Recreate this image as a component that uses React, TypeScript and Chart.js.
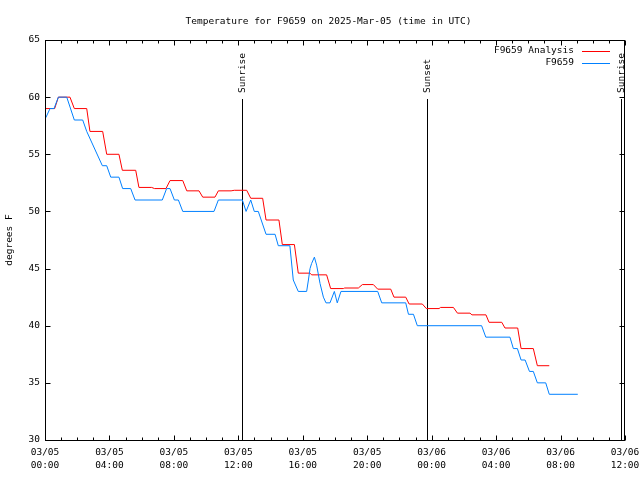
import React, { useEffect, useRef } from "react";
import { Chart, registerables } from "chart.js";

Chart.register(...registerables);

const TITLE = "Temperature for F9659 on 2025-Mar-05 (time in UTC)";
const Y_LABEL = "degrees F";
const MONTH = "03";
const START_DAY = 5;
const X_MIN = 0;
const X_MAX = 36;
const X_MAJOR = 4;
const X_MINOR = 1;
const Y_MIN = 30;
const Y_MAX = 65;
const Y_STEP = 5;

const seriesNames = ["F9659 Analysis", "F9659"];
const seriesColors = ["#ff0000", "#0080ff"];

// hours since 03/05 00:00 UTC
const analysisHours = [
  0.05, 0.6, 0.83, 1.55, 1.82, 2.59, 2.79, 3.58, 3.83, 4.59, 4.8, 5.63, 5.83, 6.62, 6.8, 7.51,
  7.76, 8.55, 8.8, 9.56, 9.79, 10.55, 10.76, 11.55, 11.75, 12.52, 12.77, 13.51, 13.72, 14.52,
  14.73, 15.48, 15.72, 16.45, 16.55, 17.48, 17.73, 18.52, 18.6, 19.45, 19.7, 20.38, 20.65,
  21.46, 21.66, 22.39, 22.6, 23.42, 23.67, 24.46, 24.55, 25.35, 25.6, 26.38, 26.5, 27.37,
  27.56, 28.35, 28.55, 29.34, 29.55, 30.31, 30.56, 31.3,
];
const analysisTemps = [
  59, 59, 60, 60, 59, 59, 57, 57, 55, 55, 53.6, 53.6, 52.1, 52.1, 52.0, 52.0,
  52.7, 52.7, 51.8, 51.8, 51.25, 51.25, 51.8, 51.8, 51.85, 51.85, 51.15, 51.15, 49.25, 49.25,
  47.1, 47.1, 44.6, 44.6, 44.45, 44.45, 43.25, 43.25, 43.3, 43.3, 43.6, 43.6, 43.2,
  43.2, 42.5, 42.5, 41.9, 41.9, 41.5, 41.5, 41.6, 41.6, 41.1, 41.1, 40.95, 40.95,
  40.3, 40.3, 39.8, 39.8, 38.0, 38.0, 36.5, 36.5,
];

const obsHours = [
  0.05, 0.31, 0.56, 0.83, 1.35, 1.82, 2.34, 2.59, 3.56, 3.83, 4.08, 4.59, 4.82, 5.32, 5.59,
  7.28, 7.55, 7.76, 8.03, 8.28, 8.55, 10.49, 10.76, 12.25, 12.48, 12.77, 12.99, 13.24, 13.72,
  14.28, 14.48, 15.2, 15.41, 15.72, 16.24, 16.35, 16.45, 16.55, 16.72, 16.86, 17.07, 17.28,
  17.44, 17.69, 17.96, 18.14, 18.37, 20.65, 20.9, 22.39, 22.56, 22.87, 23.11, 27.1, 27.36,
  28.86, 29.07, 29.32, 29.55, 29.8, 30.07, 30.31, 30.56, 31.08, 31.3, 33.07,
];
const obsTemps = [
  58.2, 59, 59, 60, 60, 58, 58, 57, 54, 54, 53, 53, 52, 52, 51,
  51, 52, 52, 51, 51, 50, 50, 51, 51, 50, 51, 50, 50, 48,
  48, 47, 47, 44, 43, 43, 44, 45, 45.45, 46, 45.3, 43.7, 42.5,
  42, 42, 43, 42, 43, 43, 42, 42, 41, 41, 40, 40, 39,
  39, 38, 38, 37, 37, 36, 36, 35, 35, 34, 34,
];

const eventNames = ["Sunrise", "Sunset", "Sunrise"];
const eventHours = [12.24, 23.73, 35.78];

const FONT_FAMILY = "'DejaVu Sans Mono', monospace";
const FONT_SIZE = 9.5;

const pad2 = (n: number) => (n < 10 ? "0" + n : "" + n);

const gnuplotDecor = {
  id: "gnuplotDecor",
  beforeDatasetsDraw(chart: any) {
    const { ctx, chartArea, scales } = chart;
    const xs = scales.x;
    const top = Math.round(chartArea.bottom - 0.853 * (chartArea.bottom - chartArea.top));
    ctx.save();
    ctx.strokeStyle = "#000";
    ctx.lineWidth = 1;
    ctx.fillStyle = "#000";
    ctx.font = `${FONT_SIZE}px ${FONT_FAMILY}`;
    eventHours.forEach((h, i) => {
      const px = Math.round(xs.getPixelForValue(h)) + 0.5;
      ctx.beginPath();
      ctx.moveTo(px, top);
      ctx.lineTo(px, Math.round(chartArea.bottom));
      ctx.stroke();
      ctx.save();
      ctx.translate(px + 0.5, top - 6);
      ctx.rotate(-Math.PI / 2);
      ctx.textAlign = "left";
      ctx.textBaseline = "middle";
      ctx.fillText(eventNames[i], 0, 0);
      ctx.restore();
    });
    ctx.restore();
  },
  afterDatasetsDraw(chart: any) {
    const { ctx, chartArea, scales } = chart;
    const xs = scales.x;
    const ys = scales.y;
    const L = Math.round(chartArea.left) + 0.5;
    const R = Math.round(chartArea.right) - 0.5;
    const T = Math.round(chartArea.top) + 0.5;
    const B = Math.round(chartArea.bottom) + 0.5;
    ctx.save();
    ctx.strokeStyle = "#000";
    ctx.lineWidth = 1;
    ctx.beginPath();
    for (let h = X_MIN; h <= X_MAX; h += X_MINOR) {
      const px = Math.round(xs.getPixelForValue(h)) + 0.5;
      const len = h % X_MAJOR === 0 ? 5 : 3;
      ctx.moveTo(px, B);
      ctx.lineTo(px, B - len);
      ctx.moveTo(px, T);
      ctx.lineTo(px, T + len);
    }
    for (let v = Y_MIN; v <= Y_MAX; v += Y_STEP) {
      const py = Math.round(ys.getPixelForValue(v)) + 0.5;
      ctx.moveTo(L, py);
      ctx.lineTo(L + 5, py);
      ctx.moveTo(R, py);
      ctx.lineTo(R - 5, py);
    }
    ctx.stroke();
    ctx.strokeRect(L, T, R - L, B - T);

    ctx.font = `${FONT_SIZE}px ${FONT_FAMILY}`;
    ctx.fillStyle = "#000";
    ctx.textAlign = "right";
    ctx.textBaseline = "middle";
    seriesNames.forEach((name, i) => {
      const y = T + 10 + i * 12.5;
      ctx.fillText(name, 574, y);
      ctx.strokeStyle = seriesColors[i];
      ctx.beginPath();
      ctx.moveTo(582, Math.round(y) + 0.5);
      ctx.lineTo(610, Math.round(y) + 0.5);
      ctx.stroke();
    });

    ctx.textAlign = "center";
    ctx.textBaseline = "alphabetic";
    ctx.fillText(TITLE, 328.5, 24);
    ctx.restore();
  },
};

export default function App() {
  const canvasRef = useRef<HTMLCanvasElement | null>(null);

  useEffect(() => {
    document.body.style.margin = "0";
    const canvas = canvasRef.current;
    if (!canvas) return;
    const chart = new Chart(canvas, {
      type: "line",
      data: {
        datasets: [
          {
            label: seriesNames[0],
            data: analysisHours.map((h, i) => ({ x: h, y: analysisTemps[i] })),
            borderColor: seriesColors[0],
            borderWidth: 1,
            pointRadius: 0,
            tension: 0,
            fill: false,
            order: 1,
          },
          {
            label: seriesNames[1],
            data: obsHours.map((h, i) => ({ x: h, y: obsTemps[i] })),
            borderColor: seriesColors[1],
            borderWidth: 1,
            pointRadius: 0,
            tension: 0,
            fill: false,
            order: 0,
          },
        ],
      },
      options: {
        animation: false,
        responsive: false,
        devicePixelRatio: 1,
        layout: { padding: { left: 0, right: 15, top: 40, bottom: 0 } },
        plugins: {
          legend: { display: false },
          title: { display: false },
          tooltip: { enabled: false },
        },
        scales: {
          x: {
            type: "linear",
            min: X_MIN,
            max: X_MAX,
            afterFit: (s: any) => {
              s.height = 40;
              s.paddingLeft = 0;
              s.paddingRight = 0;
            },
            grid: { display: false, drawTicks: false },
            border: { display: false },
            ticks: {
              stepSize: X_MAJOR,
              autoSkip: false,
              maxRotation: 0,
              padding: 6,
              color: "#000",
              font: { family: FONT_FAMILY, size: FONT_SIZE, lineHeight: "13px" },
              callback: (v: any) => {
                const n = Number(v);
                const day = START_DAY + Math.floor(n / 24);
                const hh = n % 24;
                return [`${MONTH}/${pad2(day)}`, `${pad2(hh)}:00`];
              },
            },
          },
          y: {
            type: "linear",
            min: Y_MIN,
            max: Y_MAX,
            afterFit: (s: any) => {
              s.width = 45;
              s.paddingTop = 0;
              s.paddingBottom = 0;
            },
            grid: { display: false, drawTicks: false },
            border: { display: false },
            ticks: {
              stepSize: Y_STEP,
              padding: 5,
              color: "#000",
              font: { family: FONT_FAMILY, size: FONT_SIZE },
            },
            title: {
              display: true,
              text: Y_LABEL,
              color: "#000",
              font: { family: FONT_FAMILY, size: FONT_SIZE },
              padding: { top: 4, bottom: 0 },
            },
          },
        },
      },
      plugins: [gnuplotDecor],
    });
    return () => chart.destroy();
  }, []);

  return (
    <div style={{ position: "absolute", left: 0, top: 0, width: 640, height: 480, background: "#fff" }}>
      <canvas ref={canvasRef} width={640} height={480} style={{ width: 640, height: 480 }} />
    </div>
  );
}
